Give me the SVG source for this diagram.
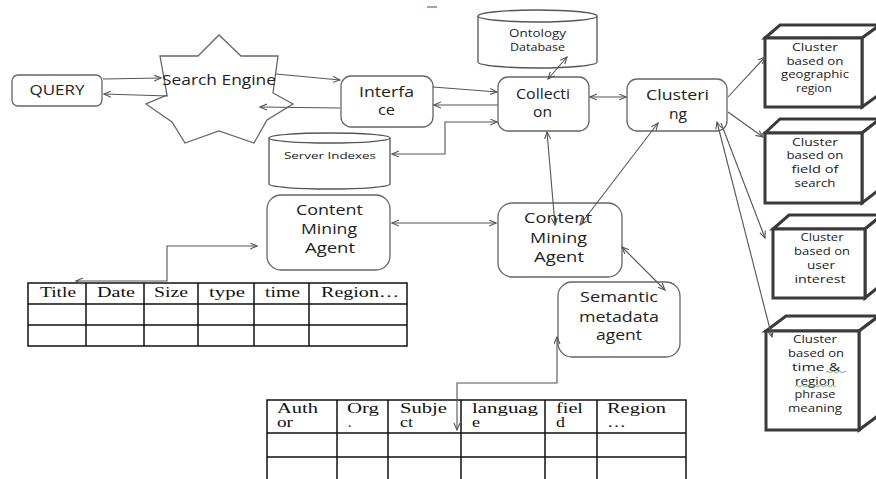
<svg xmlns="http://www.w3.org/2000/svg" width="876" height="479" viewBox="0 0 876 479">
<style>
.box{fill:#fff;stroke:#666;stroke-width:1.3}
.cube{fill:#fff;stroke:#3a3a3a;stroke-width:3;stroke-linejoin:miter}
.cyl{fill:#fff;stroke:#555;stroke-width:1.3}
.t{font-family:"Open Sans","Noto Sans",sans-serif;fill:#222;text-anchor:middle}
.s14{font-size:14px}
.s15{font-size:15px}
.s10{font-size:10px}
.tb{font-family:"Liberation Serif","Times New Roman",serif;font-size:15px;fill:#111}
.tb2{font-family:"Liberation Serif","Times New Roman",serif;font-size:14px;fill:#111}
.grid{fill:none;stroke:#111;stroke-width:1.5}
.c{fill:none;stroke:#555;stroke-width:1.1}
.sq{fill:none;stroke:#3a9a3a;stroke-width:0.8}
</style>
<defs>
<marker id="ah" markerWidth="8" markerHeight="8" refX="7" refY="3.5" orient="auto-start-reverse" markerUnits="userSpaceOnUse">
<path d="M0,0.5 L7,3.5 L0,6.5" fill="none" stroke="#555" stroke-width="1.1"/>
</marker>
</defs>
<rect width="876" height="479" fill="#fff"/>
<line x1="427" y1="7" x2="437" y2="7" stroke="#2e75b6" stroke-width="1.2"/>

<g id="query">
<rect class="box" x="12" y="75" width="90" height="31" rx="6"/>
<text class="t s14" x="57" y="95" textLength="55" lengthAdjust="spacingAndGlyphs">QUERY</text>
</g>

<g id="search-engine">
<polygon points="219,35 241,56 278,56 273,93 293,104 267,120 254,143 219,131 185,143 172,122 146,104 167,95 160,56 198,56" fill="none" stroke="#666" stroke-width="1.3"/>
<text class="t s14" x="219" y="85" textLength="114" lengthAdjust="spacingAndGlyphs">Search Engine</text>
</g>

<g id="interface">
<rect class="box" x="341" y="76" width="92" height="51" rx="10"/>
<text class="t s14" x="386.5" y="97" textLength="55" lengthAdjust="spacingAndGlyphs">Interfa</text>
<text class="t s14" x="386.5" y="115" textLength="17" lengthAdjust="spacingAndGlyphs">ce</text>
</g>

<g id="collection">
<rect class="box" x="498" y="77" width="91" height="54" rx="10"/>
<text class="t s14" x="543" y="99" textLength="54" lengthAdjust="spacingAndGlyphs">Collecti</text>
<text class="t s14" x="542.5" y="117" textLength="19" lengthAdjust="spacingAndGlyphs">on</text>
</g>

<g id="clustering">
<rect class="box" x="627" y="79" width="100" height="52" rx="10"/>
<text class="t s15" x="677.5" y="100" textLength="63" lengthAdjust="spacingAndGlyphs">Clusteri</text>
<text class="t s15" x="678" y="119" textLength="18" lengthAdjust="spacingAndGlyphs">ng</text>
</g>

<g id="ontology-database">
<path class="cyl" d="M478,16 L478,62 A59.5,6 0 0 0 597,62 L597,16"/>
<ellipse class="cyl" cx="537.5" cy="16" rx="59.5" ry="6"/>
<text class="t s10" x="537.5" y="36.5" textLength="57" lengthAdjust="spacingAndGlyphs">Ontology</text>
<text class="t s10" x="537.5" y="50.5" textLength="55" lengthAdjust="spacingAndGlyphs">Database</text>
</g>

<g id="server-indexes">
<path class="cyl" d="M269,138 L269,184 A60.5,5 0 0 0 390,184 L390,138"/>
<ellipse class="cyl" cx="329.5" cy="138" rx="60.5" ry="5"/>
<text class="t" style="font-size:9.5px" x="330" y="158.5" textLength="92" lengthAdjust="spacingAndGlyphs">Server Indexes</text>
</g>

<g id="content-mining-agent-left">
<rect class="box" x="267" y="195" width="123" height="75" rx="14"/>
<text class="t s14" x="329.5" y="215" textLength="67" lengthAdjust="spacingAndGlyphs">Content</text>
<text class="t s14" x="329" y="234" textLength="56" lengthAdjust="spacingAndGlyphs">Mining</text>
<text class="t s14" x="330" y="253" textLength="50" lengthAdjust="spacingAndGlyphs">Agent</text>
</g>

<g id="content-mining-agent-right">
<rect class="box" x="498" y="203" width="124" height="74" rx="14"/>
<text class="t s14" x="558" y="223" textLength="68" lengthAdjust="spacingAndGlyphs">Content</text>
<text class="t s14" x="558.5" y="243" textLength="57" lengthAdjust="spacingAndGlyphs">Mining</text>
<text class="t s14" x="559" y="262" textLength="50" lengthAdjust="spacingAndGlyphs">Agent</text>
</g>

<g id="semantic-metadata-agent">
<rect class="box" x="558" y="282" width="122" height="75" rx="14"/>
<text class="t s14" x="619" y="302" textLength="78" lengthAdjust="spacingAndGlyphs">Semantic</text>
<text class="t s14" x="619" y="322" textLength="80" lengthAdjust="spacingAndGlyphs">metadata</text>
<text class="t s14" x="619" y="340" textLength="46" lengthAdjust="spacingAndGlyphs">agent</text>
</g>

<g id="cluster-geographic">
<path class="cube" d="M765,38 L780,25 L880,25 L862,38 Z"/>
<path class="cube" d="M862,38 L880,25 L880,94 L862,107 Z"/>
<rect class="cube" x="765" y="38" width="97" height="69"/>
<text class="t s10" x="815" y="50.5" textLength="46" lengthAdjust="spacingAndGlyphs">Cluster</text>
<text class="t s10" x="815" y="64.5" textLength="57" lengthAdjust="spacingAndGlyphs">based on</text>
<text class="t s10" x="815" y="77.5" textLength="68" lengthAdjust="spacingAndGlyphs">geographic</text>
<text class="t s10" x="814" y="91.5" textLength="36" lengthAdjust="spacingAndGlyphs">region</text>
</g>

<g id="cluster-field">
<path class="cube" d="M765,133 L780,119 L880,119 L862,133 Z"/>
<path class="cube" d="M862,133 L880,119 L880,189 L862,203 Z"/>
<rect class="cube" x="765" y="133" width="97" height="70"/>
<text class="t s10" x="815" y="145.5" textLength="46" lengthAdjust="spacingAndGlyphs">Cluster</text>
<text class="t s10" x="815" y="158.5" textLength="57" lengthAdjust="spacingAndGlyphs">based on</text>
<text class="t s10" x="815" y="172.5" textLength="47" lengthAdjust="spacingAndGlyphs">field of</text>
<text class="t s10" x="815" y="186.5" textLength="41" lengthAdjust="spacingAndGlyphs">search</text>
</g>

<g id="cluster-user-interest">
<path class="cube" d="M773,229 L789,215 L882,215 L865,229 Z"/>
<path class="cube" d="M865,229 L882,215 L882,284 L865,298 Z"/>
<rect class="cube" x="773" y="229" width="92" height="69"/>
<text class="t s10" x="822" y="240.5" textLength="43" lengthAdjust="spacingAndGlyphs">Cluster</text>
<text class="t s10" x="822" y="254.5" textLength="56" lengthAdjust="spacingAndGlyphs">based on</text>
<text class="t s10" x="821" y="268.5" textLength="28" lengthAdjust="spacingAndGlyphs">user</text>
<text class="t s10" x="820" y="282.5" textLength="51" lengthAdjust="spacingAndGlyphs">interest</text>
</g>

<g id="cluster-time-region">
<path class="cube" d="M766,331 L786,316 L879,316 L859,331 Z"/>
<path class="cube" d="M859,331 L879,316 L879,415 L859,430 Z"/>
<rect class="cube" x="766" y="331" width="93" height="99"/>
<text class="t s10" x="815" y="342.5" textLength="44" lengthAdjust="spacingAndGlyphs">Cluster</text>
<text class="t s10" x="816" y="356.5" textLength="56" lengthAdjust="spacingAndGlyphs">based on</text>
<text class="t s10" x="816" y="370.5" textLength="48" lengthAdjust="spacingAndGlyphs">time &amp;</text>
<text class="t s10" x="815" y="384.5" textLength="40" lengthAdjust="spacingAndGlyphs">region</text>
<text class="t s10" x="815" y="397.5" textLength="41" lengthAdjust="spacingAndGlyphs">phrase</text>
<text class="t s10" x="815" y="411.5" textLength="54" lengthAdjust="spacingAndGlyphs">meaning</text>
<path class="sq" d="M826,372 q1.5,-1.5 3,0 t3,0 t3,0 t3,0 t3,0 t3,0 t2,0"/>
<path class="sq" d="M795,386 q1.5,-1.5 3,0 t3,0 t3,0 t3,0 t3,0 t3,0 t3,0 t3,0 t3,0 t3,0 t3,0 t3,0 t3,0 t1,0"/>
</g>

<g id="table-content">
<rect class="grid" x="28" y="283" width="379" height="63"/>
<path class="grid" d="M28,304 H407 M28,325 H407 M86,283 V346 M144,283 V346 M198,283 V346 M254,283 V346 M309,283 V346"/>
<text class="tb" x="40" y="297" textLength="36" lengthAdjust="spacingAndGlyphs">Title</text>
<text class="tb" x="97" y="297" textLength="38" lengthAdjust="spacingAndGlyphs">Date</text>
<text class="tb" x="154" y="297" textLength="34" lengthAdjust="spacingAndGlyphs">Size</text>
<text class="tb" x="209" y="297" textLength="36" lengthAdjust="spacingAndGlyphs">type</text>
<text class="tb" x="265" y="297" textLength="35" lengthAdjust="spacingAndGlyphs">time</text>
<text class="tb" x="321" y="297" textLength="78" lengthAdjust="spacingAndGlyphs">Region…</text>
</g>

<g id="table-semantic">
<path class="grid" d="M267,481 V400 H686 V481 M267,433 H686 M267,457 H686 M337,400 V481 M388,400 V481 M461,400 V481 M545,400 V481 M597,400 V481"/>
<text class="tb2" x="277" y="413" textLength="41" lengthAdjust="spacingAndGlyphs">Auth</text>
<text class="tb2" x="277" y="427" textLength="16" lengthAdjust="spacingAndGlyphs">or</text>
<text class="tb2" x="347" y="413" textLength="32" lengthAdjust="spacingAndGlyphs">Org</text>
<text class="tb2" x="348" y="427">.</text>
<text class="tb2" x="400" y="413" textLength="47" lengthAdjust="spacingAndGlyphs">Subje</text>
<text class="tb2" x="400" y="427" textLength="13" lengthAdjust="spacingAndGlyphs">ct</text>
<text class="tb2" x="472" y="413" textLength="66" lengthAdjust="spacingAndGlyphs">languag</text>
<text class="tb2" x="472" y="427" textLength="8" lengthAdjust="spacingAndGlyphs">e</text>
<text class="tb2" x="556" y="413" textLength="27" lengthAdjust="spacingAndGlyphs">fiel</text>
<text class="tb2" x="556" y="427" textLength="9" lengthAdjust="spacingAndGlyphs">d</text>
<text class="tb2" x="607" y="413" textLength="59" lengthAdjust="spacingAndGlyphs">Region</text>
<text class="tb2" x="607" y="427" textLength="19" lengthAdjust="spacingAndGlyphs">…</text>
</g>

<g id="connectors">
<line class="c" x1="103" y1="79" x2="161" y2="78" marker-end="url(#ah)"/>
<line class="c" x1="168" y1="96" x2="104" y2="94" marker-end="url(#ah)"/>
<line class="c" x1="276" y1="74" x2="340" y2="80" marker-end="url(#ah)"/>
<line class="c" x1="340" y1="108" x2="260" y2="107" marker-end="url(#ah)"/>
<line class="c" x1="433" y1="87" x2="497" y2="92" marker-end="url(#ah)"/>
<line class="c" x1="498" y1="105" x2="434" y2="105" marker-end="url(#ah)"/>
<polyline class="c" points="392,154 445,154 445,122 497,122" marker-start="url(#ah)" marker-end="url(#ah)"/>
<line class="c" x1="548" y1="79" x2="567" y2="57" marker-start="url(#ah)" marker-end="url(#ah)"/>
<line class="c" x1="590" y1="97" x2="626" y2="97" marker-start="url(#ah)" marker-end="url(#ah)"/>
<line class="c" x1="728" y1="97" x2="765" y2="57" marker-end="url(#ah)"/>
<line class="c" x1="728" y1="112" x2="763" y2="137" marker-end="url(#ah)"/>
<line class="c" x1="717" y1="122" x2="772" y2="337" marker-start="url(#ah)" marker-end="url(#ah)"/>
<line class="c" x1="721" y1="123" x2="765" y2="238" marker-end="url(#ah)"/>
<line class="c" x1="392" y1="223" x2="496" y2="223" marker-start="url(#ah)" marker-end="url(#ah)"/>
<line class="c" x1="547" y1="132" x2="555" y2="225" marker-start="url(#ah)" marker-end="url(#ah)"/>
<line class="c" x1="580" y1="225" x2="658" y2="123" marker-start="url(#ah)" marker-end="url(#ah)"/>
<line class="c" x1="622" y1="247" x2="665" y2="290" marker-start="url(#ah)" marker-end="url(#ah)"/>
<polyline class="c" points="557,337 557,383 457,383 457,430" marker-start="url(#ah)" marker-end="url(#ah)"/>
<polyline class="c" points="257,246 167,246 167,281 76,281" marker-start="url(#ah)" marker-end="url(#ah)"/>
</g>
</svg>
